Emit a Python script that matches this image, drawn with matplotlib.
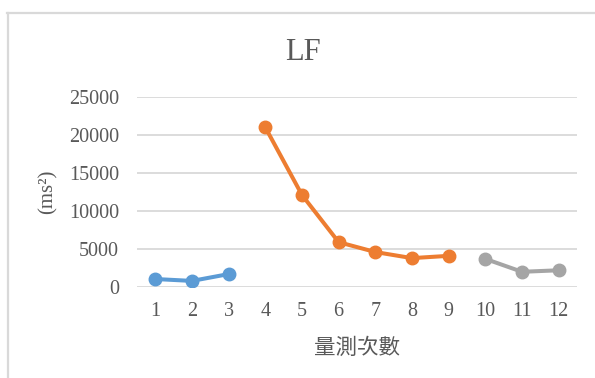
import matplotlib.pyplot as plt
from matplotlib.lines import Line2D

# 量測次數與 LF 數值（三段）
x_a = [1, 2, 3]
lf_a = [1050, 800, 1700]
x_b = [4, 5, 6, 7, 8, 9]
lf_b = [21000, 12100, 5900, 4600, 3800, 4100]
x_c = [10, 11, 12]
lf_c = [3700, 2000, 2200]

y_ticks = [0, 5000, 10000, 15000, 20000, 25000]
x_ticks = list(range(1, 13))

plt.rcParams['font.family'] = ['Liberation Serif', 'Noto Sans CJK TC']
txt = '#595959'
grid = '#d9d9d9'

fig = plt.figure(figsize=(5.95, 3.78), dpi=100)
ax = fig.add_axes([137 / 595, 1 - 287 / 378, 440 / 595, 190 / 378])

for xs, ys, c in [(x_a, lf_a, '#5B9BD5'), (x_b, lf_b, '#ED7D31'), (x_c, lf_c, '#A5A5A5')]:
    ax.plot(xs, ys, color=c, lw=2.9, marker='o', ms=9, zorder=3)

ax.set_xlim(0.5, 12.5)
ax.set_ylim(0, 25000)
ax.set_yticks(y_ticks)
ax.set_xticks(x_ticks)
ax.set_xticklabels([str(v) for v in x_ticks])
ax.grid(axis='y', color=grid, lw=1.3)
ax.set_axisbelow(True)
for s in ax.spines.values():
    s.set_visible(False)
ax.tick_params(length=0, labelsize=14.5, labelcolor=txt)
ax.tick_params(axis='y', pad=13)
ax.tick_params(axis='x', pad=11)

# 標題置於整張圖中央
fig.text(303 / 595, 1 - 52 / 378, 'LF', fontsize=22, color=txt, ha='center', va='center')
ax.set_xlabel('量測次數', fontsize=15.5, color=txt, labelpad=11,
              family=['Noto Sans CJK TC'], fontweight='light')
ax.set_ylabel('(ms²)', fontsize=15, color=txt, labelpad=8)

# 圖表外框（左、上）
fig.add_artist(Line2D([7.5 / 595, 7.5 / 595], [0, 1 - 13 / 378], color=grid, lw=1.6))
fig.add_artist(Line2D([7 / 595, 1], [1 - 13 / 378, 1 - 13 / 378], color=grid, lw=1.6))

fig.savefig('out.png', dpi=100, facecolor='white')
